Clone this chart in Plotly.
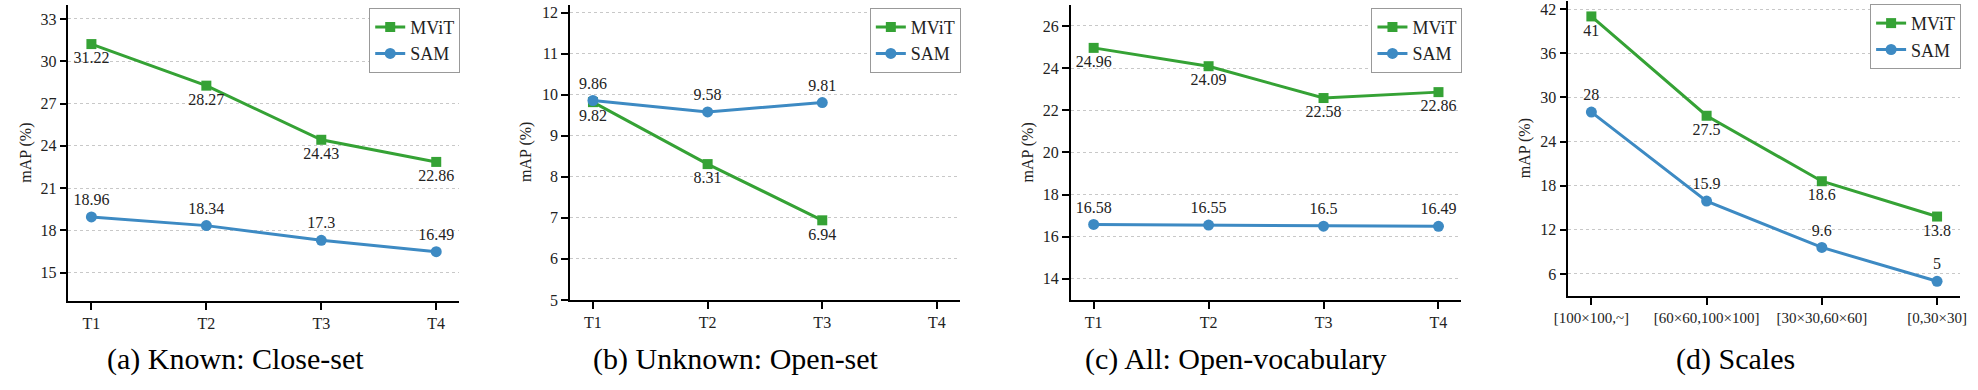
import plotly.graph_objects as go

# data
tasks = ["T1", "T2", "T3", "T4"]
scales = ["[100×100,~]", "[60×60,100×100]", "[30×30,60×60]", "[0,30×30]"]

known_mvit = [31.22, 28.27, 24.43, 22.86]
known_sam = [18.96, 18.34, 17.3, 16.49]

unknown_mvit = [9.82, 8.31, 6.94, None]
unknown_sam = [9.86, 9.58, 9.81, None]

all_mvit = [24.96, 24.09, 22.58, 22.86]
all_sam = [16.58, 16.55, 16.5, 16.49]

scale_mvit = [41, 27.5, 18.6, 13.8]
scale_sam = [28, 15.9, 9.6, 5]

captions = ["(a) Known: Close-set", "(b) Unknown: Open-set",
            "(c) All: Open-vocabulary", "(d) Scales"]

W, H = 1978, 390
GREEN = "#35a235"
BLUE = "#3d8ac3"
FONT = "Liberation Serif"

# panel layout in pixels: (left, right, top, bottom), y range, tick step, caption x, ylabel x
panels = [
    dict(cats=tasks, mvit=known_mvit, sam=known_sam, px=(55, 450, 5, 308),
         yr=[13, 34], tick0=15, dtick=3, cap_x=224, lab_x=12, tfs=16),
    dict(cats=tasks, mvit=unknown_mvit, sam=unknown_sam, px=(562, 956, 5, 307),
         yr=[5, 12.19], tick0=5, dtick=1, cap_x=730, lab_x=518, tfs=16),
    dict(cats=tasks, mvit=all_mvit, sam=all_sam, px=(1068, 1463, 5, 307),
         yr=[13, 27], tick0=14, dtick=2, cap_x=1235, lab_x=1025, tfs=16),
    dict(cats=scales, mvit=scale_mvit, sam=scale_sam, px=(1571, 1967, 1, 303),
         yr=[3, 43.1], tick0=6, dtick=6, cap_x=1740, lab_x=1528, tfs=15),
]

def lab(vals):
    return ["" if v is None else str(v) for v in vals]

fig = go.Figure()
annotations = []
layout = {}

for i, p in enumerate(panels):
    n = "" if i == 0 else str(i + 1)
    xa, ya = "x" + n, "y" + n
    leg = "legend" + n
    l, r, t, b = p["px"]

    fig.add_trace(go.Scatter(
        x=p["cats"], y=p["mvit"], name="MViT", mode="lines+markers+text",
        line=dict(color=GREEN, width=3),
        marker=dict(symbol="square", size=10, color=GREEN),
        text=lab(p["mvit"]), textposition="bottom center",
        textfont=dict(family=FONT, size=16, color="#222"),
        xaxis=xa, yaxis=ya, legend=leg, cliponaxis=False))
    fig.add_trace(go.Scatter(
        x=p["cats"], y=p["sam"], name="SAM", mode="lines+markers+text",
        line=dict(color=BLUE, width=3),
        marker=dict(symbol="circle", size=11, color=BLUE),
        text=lab(p["sam"]), textposition="top center",
        textfont=dict(family=FONT, size=16, color="#222"),
        xaxis=xa, yaxis=ya, legend=leg, cliponaxis=False))

    layout["xaxis" + n] = dict(
        domain=[l / W, r / W], anchor=ya, type="category",
        categoryorder="array", categoryarray=p["cats"], range=[-0.2, 3.2],
        showline=True, linecolor="black", linewidth=1.5, mirror=False,
        ticks="outside", ticklen=7, tickwidth=1.5, tickcolor="black",
        showgrid=False, tickfont=dict(family=FONT, size=p["tfs"], color="#222"))
    layout["yaxis" + n] = dict(
        domain=[1 - b / H, 1 - t / H], anchor=xa, range=p["yr"],
        tick0=p["tick0"], dtick=p["dtick"],
        showline=True, linecolor="black", linewidth=1.5,
        ticks="outside", ticklen=7, tickwidth=1.5, tickcolor="black",
        showgrid=True, gridcolor="#c8c8c8", gridwidth=1, griddash="dot",
        zeroline=False, tickfont=dict(family=FONT, size=16, color="#222"))
    layout[leg] = dict(
        x=(r + 1) / W, y=1 - (t + 3) / H, xanchor="right", yanchor="top",
        bgcolor="white", bordercolor="#999", borderwidth=1,
        font=dict(family=FONT, size=18, color="#222"),
        tracegroupgap=0, itemwidth=30)

    annotations.append(dict(
        text=captions[i], x=p["cap_x"] / W, y=1 - 367 / H, xref="paper", yref="paper",
        xanchor="center", yanchor="middle", showarrow=False,
        font=dict(family=FONT, size=30, color="black")))
    annotations.append(dict(
        text="mAP (%)", textangle=-90, x=p["lab_x"] / W, y=1 - (t + b) / 2 / H,
        xref="paper", yref="paper", xanchor="center", yanchor="middle",
        showarrow=False, font=dict(family=FONT, size=16, color="#222")))

fig.update_layout(
    width=W, height=H, margin=dict(l=0, r=0, t=0, b=0),
    plot_bgcolor="white", paper_bgcolor="white",
    annotations=annotations, **layout)

# the default page body has an 8px margin; drop it so the figure fills the window
fig.write_html("out.html", config={"displayModeBar": False},
               post_script="document.body.style.margin='0px';")
